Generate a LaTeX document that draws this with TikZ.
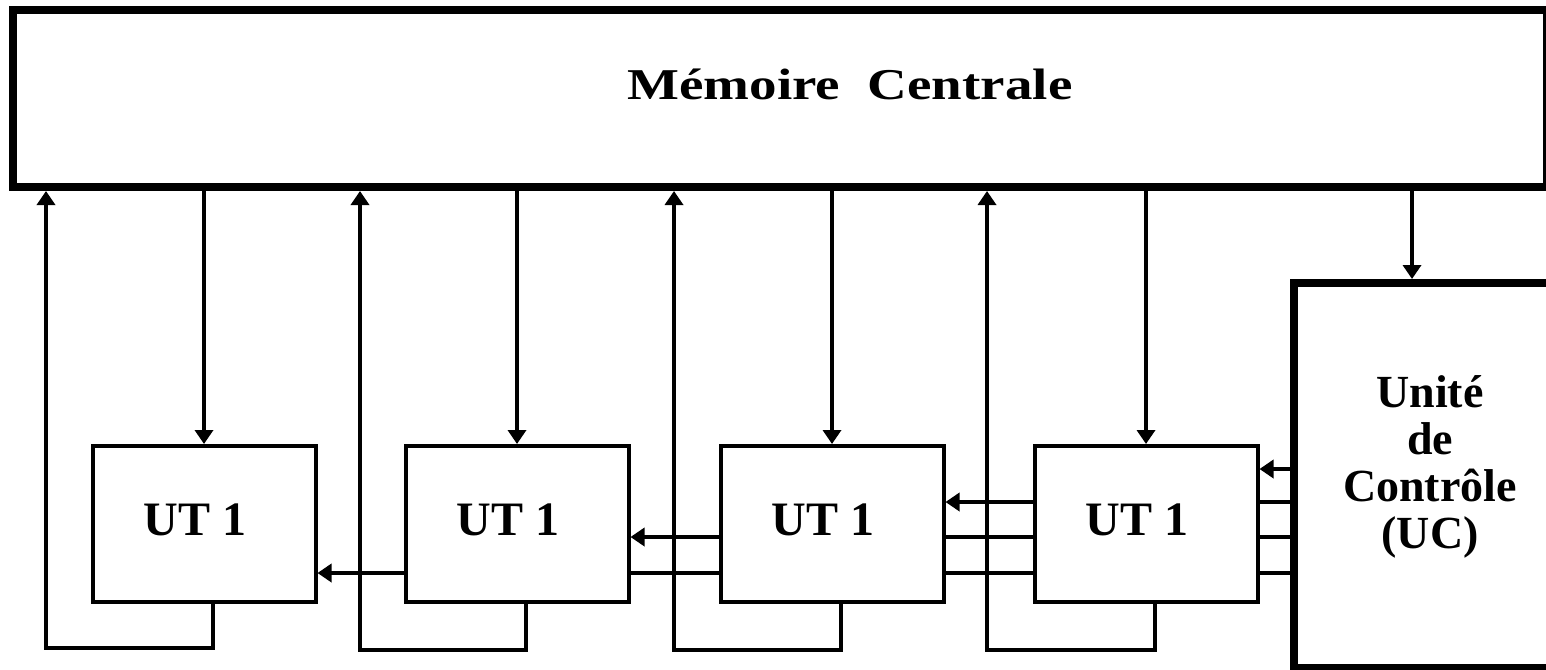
\documentclass[tikz,border=0pt]{standalone}
\usepackage{fontspec}
\setmainfont{Liberation Serif}
\usetikzlibrary{arrows.meta,calc}
\begin{document}
\begin{tikzpicture}[x=0.5pt,y=-0.5pt,
  thickbox/.style={draw, line width=4pt, inner sep=0pt, outer sep=2pt},
  utbox/.style={draw, line width=2pt, inner sep=0pt, outer sep=1pt,
    minimum width=111.5pt, minimum height=78pt},
  uttext/.style={anchor=base, inner sep=0pt, font=\fontsize{24}{24}\selectfont\bfseries},
  wire/.style={line width=1.9pt},
  arr/.style={wire, -{Triangle[length=7pt,width=9pt]}},
]
\useasboundingbox (0,0) rectangle (1546,669);
% Memory
\node[thickbox, minimum width=767pt, minimum height=88.5pt] (mem) at (780,98.5) {};
\node[anchor=base, inner sep=0pt, font=\fontsize{22}{22}\selectfont\bfseries] (memtxt) at (850,99)
  {\scalebox{1.25}[1]{Mémoire\ \ Centrale}};
% Control unit
\node[thickbox, minimum width=133pt, minimum height=192.5pt] (UC) at (1427,475.5) {};
\node[align=center, inner sep=0pt, font=\fontsize{23}{23.5}\selectfont\bfseries] (uctxt) at (1430,467)
  {Unité\\de\\Contrôle\\(UC)};
% Processing units
\node[utbox] (B1) at (204,524) {};
\node[utbox] (B2) at (517,524) {};
\node[utbox] (B3) at (832,524) {};
\node[utbox] (B4) at (1146,524) {};
\node[uttext] (t1) at (195,535) {UT 1};
\node[uttext] (t2) at (508,535) {UT 1};
\node[uttext] (t3) at (823,535) {UT 1};
\node[uttext] (t4) at (1137,535) {UT 1};
% memory -> UT
\draw[arr] (mem.south -| B1.north) -- (B1.north);
\draw[arr] (mem.south -| B2.north) -- (B2.north);
\draw[arr] (mem.south -| B3.north) -- (B3.north);
\draw[arr] (mem.south -| B4.north) -- (B4.north);
% memory -> UC
\coordinate (ucx) at (1412,0);
\draw[arr] (mem.south -| ucx) -- (UC.north -| ucx);
% feedback UT -> memory
\coordinate (f1) at (46,648);
\coordinate (f2) at (360,650);
\coordinate (f3) at (674,650);
\coordinate (f4) at (987,650);
\draw[arr] ([xshift=4.5pt]B1.south) |- (f1) -- (f1 |- mem.south);
\draw[arr] ([xshift=4.5pt]B2.south) |- (f2) -- (f2 |- mem.south);
\draw[arr] ([xshift=4.5pt]B3.south) |- (f3) -- (f3 |- mem.south);
\draw[arr] ([xshift=4.5pt]B4.south) |- (f4) -- (f4 |- mem.south);
% control lines
\coordinate (h1) at (0,469);
\coordinate (h2) at (0,502);
\coordinate (h3) at (0,537);
\coordinate (h4) at (0,573);
\draw[arr]  (UC.west |- h1) -- (B4.east |- h1);
\draw[wire] (UC.west |- h2) -- (B4.east |- h2);
\draw[wire] (UC.west |- h3) -- (B4.east |- h3);
\draw[wire] (UC.west |- h4) -- (B4.east |- h4);
\draw[arr]  (B4.west |- h2) -- (B3.east |- h2);
\draw[wire] (B4.west |- h3) -- (B3.east |- h3);
\draw[wire] (B4.west |- h4) -- (B3.east |- h4);
\draw[arr]  (B3.west |- h3) -- (B2.east |- h3);
\draw[wire] (B3.west |- h4) -- (B2.east |- h4);
\draw[arr]  (B2.west |- h4) -- (B1.east |- h4);
\end{tikzpicture}
\end{document}
